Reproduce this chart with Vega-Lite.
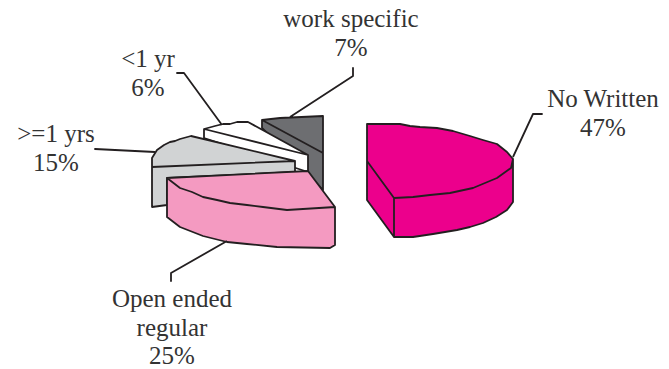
{
"$schema":"https://vega.github.io/schema/vega-lite/v6.json",
"width":669,"height":369,"padding":0,"autosize":{"type":"none"},
"background":"white",
"config":{"view":{"stroke":null}},
"data":{"values":[
{"slice":"No Written","share":47},
{"slice":"work specific","share":7},
{"slice":"<1 yr","share":6},
{"slice":">=1 yrs","share":15},
{"slice":"Open ended\nregular","share":25}
]},
"transform":[{"calculate":"datum.slice + '\\n' + datum.share + '%'","as":"label"}],
"layer":[
{"mark":{"type":"point","filled":true,"opacity":1,"stroke":"#231f20","strokeWidth":1.8,"strokeJoin":"round","size":4},
"encoding":{
"x":{"field":"share","type":"quantitative","axis":null,"scale":{"domain":[6,47],"range":[0,0],"zero":false,"nice":false}},
"y":{"field":"share","type":"quantitative","axis":null,"scale":{"domain":[6,47],"range":[0,0],"zero":false,"nice":false}},
"fill":{"field":"slice","type":"nominal","legend":null,"scale":{"domain":["No Written","work specific","<1 yr",">=1 yrs","Open ended\nregular"],"range":["#EC008C","#6D6E71","#FFFFFF","#D1D3D4","#F49AC1"]}},
"shape":{"field":"slice","type":"nominal","legend":null,"scale":{"domain":["No Written","work specific","<1 yr",">=1 yrs","Open ended\nregular"],"range":[
"M367,124 L400,124 L410,126 L420,127 L437,128 L453,131 L470,136 L483,140 L497,144 L507,152 L513,159 L513,202 L507,210 L496,217 L483,223 L470,227 L457,230 L433,234 L413,237 L394,237 L367,200 Z M367,161 L394,198 L413,197 L430,195 L450,193 L473,188 L497,178 L511,168 L513,159 L511,168 L497,178 L473,188 L450,193 L430,195 L413,197 L394,198 L367,161 M394,198 L394,237 L394,198 M513,157 L533,114 L542,114 L533,114 L513,157",
"M262,120 L280,118 L323,116 L323,190 L300,165 L262,128 Z M262,120 L323,153 L262,120 M290,117 L353,76 L353,68 L353,76 L290,117",
"M204,129 L215,126 L223,124 L230,124 L237,122 L248,122 L308,155 L308,172 L204,138 Z M204,129 L308,155 L204,129 M222,125 L184,73 L177,73 L184,73 L222,125",
"M152,167 L152,158 L157,150 L164,145 L170,142 L175,141 L180,139 L191,136 L295,161 L295,172 L167,178 L167,205 L152,207 Z M152,167 L295,161 L152,167 M155,152 L95,149 L155,152",
"M167,178 L308,171 L335,207 L335,245 L330,248 L277,247 L247,244 L227,242 L203,236 L180,227 L167,217 Z M167,178 L180,188 L192,192 L203,197 L217,200 L230,203 L247,205 L263,207 L287,210 L335,207 L287,210 L263,207 L247,205 L230,203 L217,200 L203,197 L192,192 L180,188 L167,178 M227,241 L171,273 L171,281 L171,273 L227,241"
]}}
}},
{"mark":{"type":"text","font":"Liberation Serif","fontSize":25,"color":"#333333","align":"center","baseline":"alphabetic","lineBreak":"\n","lineHeight":28.5},
"encoding":{
"x":{"field":"share","type":"quantitative","axis":null,"scale":{"domain":[6,7,15,25,47],"range":[148,351,56,172,603],"zero":false,"nice":false}},
"y":{"field":"share","type":"quantitative","axis":null,"scale":{"domain":[6,7,15,25,47],"range":[67,27,142,307,107],"zero":false,"nice":false}},
"text":{"field":"label"}
}}
],
"resolve":{"scale":{"x":"independent","y":"independent"}}
}
